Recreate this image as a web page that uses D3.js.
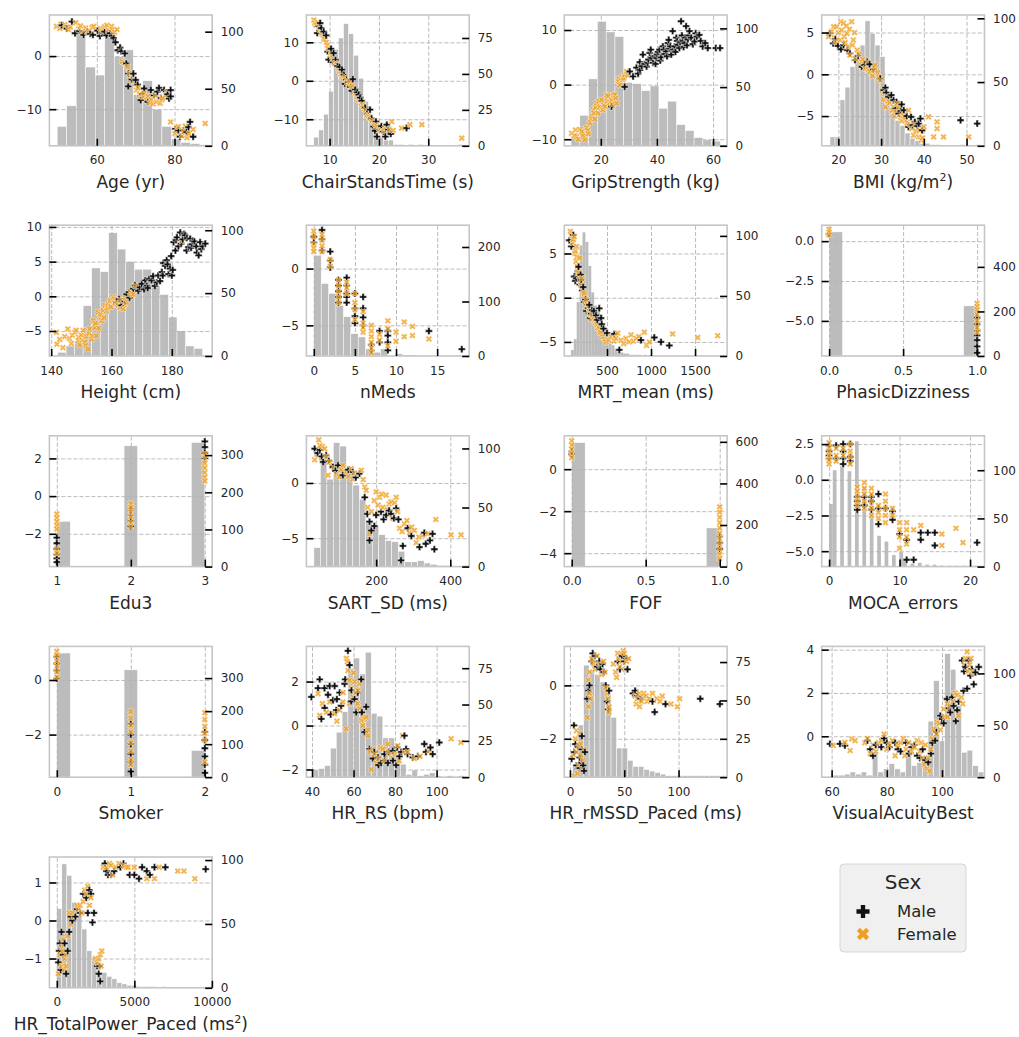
<!DOCTYPE html>
<html>
<head>
<meta charset="utf-8">
<script src="https://cdn.jsdelivr.net/npm/d3@7"></script>
<style>
  body { margin: 0; background: #fff; }
  svg { display: block; font-family: "DejaVu Sans", sans-serif; }
</style>
</head>
<body>
<svg id="chart" width="1019" height="1037"></svg>
<script>
// ---------- histogram counts (bin start, bin width, counts) ----------
const ageBinStart = 49.8, ageBinWidth = 2.45;
const ageCounts = [17,35,98,69,62,101,78,84,45,57,32,17,6,3,2,1];
const chairBinStart = 6.8, chairBinWidth = 1.007;
const chairCounts = [6,11,22,38,67,75,85,78,63,47,31,22,13,6,4,4,1,1,0,1,0,1,0,0,0,0,0,0,0,1];
const gripBinStart = 9.4, gripBinWidth = 3.13;
const gripCounts = [8,26,57,106,97,93,54,53,47,51,32,38,18,13,7,5,4];
const bmiBinStart = 18.05, bmiBinWidth = 1.17;
const bmiCounts = [7,7,36,46,62,71,79,98,88,79,70,35,28,20,16,10,6,4,2,2,1,1,0,0,0,0,1,0,0,1];
const heightBinStart = 142.1, heightBinWidth = 2.83;
const heightCounts = [3,8,12,40,70,67,98,85,75,69,69,56,49,31,20,8,6];
const nmedsBinStart = 0, nmedsBinWidth = 0.9;
const nmedsCounts = [185,133,115,93,72,41,35,13,7,13,0,4,2,2,0,1,0,0,0,1];
const mrtBinStart = 90, mrtBinWidth = 33;
const mrtCounts = [5,14,45,92,103,95,75,53,42,37,34,23,18,12,9,6,4,3,2,2,1,1,1,1,0,1,0,1];
const phasicBinStart = 0, phasicBinWidth = 1 / 11;
const phasicCounts = [557,0,0,0,0,0,0,0,0,0,225];
const edu3BinStart = 1, edu3BinWidth = 2 / 11;
const edu3Counts = [122,0,0,0,0,325,0,0,0,0,334];
const sartBinStart = 32, sartBinWidth = 17.5;
const sartCounts = [16,91,74,105,102,80,69,57,38,35,27,22,21,13,4,4,5,3,2,1,1,0,0,1];
const fofBinStart = 0, fofBinWidth = 1 / 11;
const fofCounts = [596,0,0,0,0,0,0,0,0,0,186];
const mocaBinStart = 0, mocaBinWidth = 0.525;
const mocaCounts = [65,100,0,104,0,99,0,130,0,83,0,72,0,32,0,26,0,12,0,15,6,0,3,0,4,0,2,0,2,0,1,0,1,0,1,0,1,0,0,1];
const smokerBinStart = 0, smokerBinWidth = 2 / 11;
const smokerCounts = [376,0,0,0,0,325,0,0,0,0,81];
const hrrsBinStart = 40.5, hrrsBinWidth = 2.8;
const hrrsCounts = [5,6,8,20,31,45,75,82,71,86,44,42,27,27,14,9,2,5,1,2,3,1,0,1,0,1];
const rmssdBinStart = 2.5, rmssdBinWidth = 5.05;
const rmssdCounts = [8,34,73,70,67,62,54,39,19,19,11,7,7,5,4,3,2,1,1,1,1,1,1,1,1,1,1,1];
const vaBinStart = 60.6, vaBinWidth = 2.02;
const vaCounts = [2,2,3,5,3,5,2,24,5,8,13,8,5,24,11,14,19,54,93,35,119,104,69,24,26,11,5];
const tpBinStart = 0, tpBinWidth = 323;
const tpCounts = [62,97,88,67,57,46,29,24,12,12,9,7,4,3,2,2,1,1,1,1,0,1,0,0,0,0,0,0,0,0,1];

// ---------- partial-dependence points [feature value, effect] ----------
const ageMale = [[51,5.8],[52.3,5.2],[53.6,6.5],[54.4,4.3],[55.5,4.7],[56.6,4.0],[57.5,4.6],[58.3,4.2],[59,4.0],[60.2,4.8],[60.8,3.8],[61.3,4.3],[62,4.6],[62.5,3.9],[63.4,4.3],[63.9,3.8],[64.3,3.4],[64.8,2.6],[65.4,1.1],[66,1.6],[66.3,0.9],[67.2,0.5],[67.6,-1.4],[68.1,-3.3],[69,-4.4],[69.4,-3.3],[68.1,-5.7],[70,-4.5],[70.5,-5.4],[71.3,-8.3],[71.8,-7.2],[72.2,-6.1],[73.1,-8.6],[73.9,-6.4],[74.7,-7.4],[75.6,-6.7],[76,-6.0],[76.5,-7.9],[77.3,-6.4],[78.2,-7.2],[78.6,-8.0],[79,-6.4],[79,-7.6],[80.2,-13.7],[81,-14.0],[81.4,-15.2],[82.2,-14.0],[83.1,-14.3],[83.6,-13.4],[84,-12.4],[84.8,-15.2]];
const ageFemale = [[49.6,5.6],[50.5,5.2],[50.8,6.0],[51.8,5.9],[52.2,5.4],[52.7,5.0],[53.2,5.5],[54.6,6.3],[55.3,5.1],[55.8,5.7],[56,4.6],[57.1,5.3],[57.6,4.4],[58,4.8],[58.8,5.4],[59.2,5.6],[59.7,4.9],[60.9,5.2],[61.5,4.6],[62,5.5],[62.6,5.8],[63,4.9],[63.8,5.6],[64,5.0],[64.6,4.5],[65.2,5.0],[66.5,-1.0],[67.2,-1.3],[67.9,-2.0],[68.3,-3.3],[68.6,-4.5],[69.3,-3.8],[69.8,-5.2],[70.2,-6.4],[70.6,-6.0],[71,-7.2],[71.9,-7.7],[72.2,-7.0],[72.8,-8.3],[73.2,-7.6],[73.6,-8.8],[74,-8.2],[74.5,-9.0],[75,-7.4],[75.4,-8.6],[76.3,-8.9],[76.8,-8.2],[77,-7.9],[77.7,-7.4],[78,-6.8],[79,-12.4],[80.1,-14.6],[80.6,-13.6],[81,-13.3],[81.9,-15.0],[82.4,-14.2],[82.8,-13.2],[83.2,-15.4],[83.7,-14.6],[84.8,-13.8],[87.9,-12.7]];

const chairMale = [[7.5,12.4],[7.8,14.2],[8.1,15.0],[8.3,13.7],[8.8,12.8],[9.3,11.8],[9.6,7.6],[9.8,5.5],[10.3,8.3],[10.7,4.8],[10.8,7.2],[11.2,5.4],[11.6,3.8],[12.0,3.6],[12.5,2.9],[12.9,1.6],[13.1,-0.8],[13.4,0.3],[13.8,-0.4],[14.2,-1.6],[14.5,-2.6],[14.7,0.4],[15.2,-2.3],[15.6,-3.0],[15.9,-3.6],[16.2,-4.4],[16.5,-5.2],[17.2,-7.0],[17.6,-8.5],[18.2,-7.5],[18.5,-9.8],[18.9,-11.9],[19.2,-13.0],[19.4,-10.6],[19.6,-14.5],[20.2,-12.7],[20.5,-11.8],[20.9,-13.2],[21.3,-14.5],[21.6,-11.4],[21.9,-12.7],[22.4,-13.8],[25.6,-12.3]];
const chairFemale = [[6.8,15.8],[7.0,15.0],[7.2,14.5],[7.6,15.2],[7.9,14.0],[8.0,13.2],[8.4,12.4],[8.6,12.0],[8.8,11.0],[9.0,10.8],[9.3,10.0],[9.5,9.2],[9.7,8.4],[10.2,7.2],[10.4,6.6],[10.6,6.0],[11.0,5.0],[11.2,4.6],[11.5,4.2],[11.9,3.0],[12.0,2.5],[12.3,1.8],[12.6,1.2],[12.8,0.7],[13.2,1.0],[13.4,0.2],[13.6,-0.5],[13.9,-1.0],[14.2,-0.2],[14.4,-1.8],[14.6,-1.3],[15.0,-2.7],[15.2,-3.3],[15.5,-4.1],[15.9,-5.0],[16.1,-4.6],[16.4,-5.8],[16.7,-6.2],[16.9,-6.7],[17.1,-7.2],[17.3,-7.6],[17.6,-8.8],[17.9,-9.2],[18.1,-9.5],[18.4,-10.0],[18.6,-10.3],[19.1,-11.0],[19.4,-11.5],[19.6,-11.9],[20.2,-12.5],[20.5,-13.0],[20.9,-13.2],[21.2,-12.3],[21.5,-12.0],[22.1,-12.6],[22.6,-10.6],[22.9,-12.9],[24.6,-12.3],[26.3,-11.4],[28.7,-11.4],[36.8,-14.9]];

const gripMale = [[23.8,-4.0],[28.5,-0.4],[30.3,2.4],[31.5,1.5],[32.7,3.1],[33.3,2.0],[33.9,4.1],[34.0,2.7],[34.6,3.4],[35.0,5.5],[35.6,3.8],[36.3,3.3],[36.7,4.0],[37.0,4.6],[37.4,5.8],[37.8,6.4],[38.0,4.9],[38.6,4.0],[39.2,5.2],[39.5,3.8],[39.8,4.9],[40.1,5.5],[40.4,6.0],[40.9,6.4],[41.2,4.4],[41.5,5.0],[42.1,7.0],[42.4,6.4],[42.7,5.6],[43.3,6.1],[43.6,5.2],[43.9,7.6],[44.2,8.2],[44.5,6.6],[44.8,7.0],[45.1,5.5],[45.6,9.8],[45.9,6.4],[46.3,7.0],[46.6,6.0],[46.9,8.6],[47.2,8.0],[47.5,7.3],[48.0,6.7],[48.3,7.8],[48.6,11.6],[48.9,9.0],[49.2,8.0],[49.5,6.9],[49.8,7.6],[50.1,8.6],[50.4,10.7],[50.7,7.2],[51.0,8.3],[51.3,9.0],[51.6,9.8],[52.2,8.6],[52.8,7.4],[53.4,7.9],[53.8,9.4],[54.2,8.8],[55.1,9.1],[55.6,8.0],[56.3,7.0],[57.2,7.6],[58.1,6.7],[61.0,6.7],[62.5,6.7]];
const gripFemale = [[9.6,-8.9],[10.6,-9.3],[11.0,-8.3],[11.4,-9.5],[12.0,-10.0],[12.5,-8.2],[13.2,-8.6],[13.7,-9.4],[14.3,-10.1],[14.9,-7.9],[15.3,-8.4],[15.6,-9.0],[16.1,-7.0],[16.4,-6.3],[16.8,-5.8],[17.3,-4.6],[17.6,-5.2],[17.9,-6.3],[18.2,-4.2],[18.5,-3.4],[19.0,-5.2],[19.3,-3.0],[19.7,-4.1],[20.3,-2.8],[20.7,-4.6],[21.0,-3.7],[21.5,-4.0],[22.1,-1.9],[22.3,-3.0],[22.6,-2.1],[23.2,-3.3],[23.8,-2.8],[24.1,-3.6],[24.4,-2.0],[25.0,-1.8],[25.3,-2.5],[25.6,-3.4],[26.2,0.6],[26.5,1.0],[26.8,-0.1],[27.4,1.3],[27.9,0.9],[28.2,1.2],[28.5,1.8],[29.1,2.4],[29.7,1.7]];

const bmiMale = [[18.0,4.9],[18.8,3.7],[19.3,4.2],[19.9,3.4],[20.6,3.0],[21.2,3.5],[22.1,2.9],[22.7,2.5],[23.9,1.7],[24.6,2.2],[25.5,0.9],[26.1,1.1],[26.7,1.5],[27.3,1.2],[28.2,0.6],[29.8,-0.5],[30.6,-1.9],[31.0,-1.6],[31.2,-2.2],[31.7,-2.7],[32.4,-2.5],[32.9,-3.1],[33.4,-4.1],[33.6,-3.3],[34.1,-4.7],[34.6,-4.4],[34.8,-3.6],[35.3,-4.3],[36.0,-5.0],[36.4,-6.3],[37.0,-5.1],[37.4,-6.1],[37.9,-5.7],[38.5,-6.2],[38.8,-5.9],[39.2,-5.3],[39.6,-6.7],[48.6,-5.5],[52.5,-5.9]];
const bmiFemale = [[17.7,4.5],[18.4,5.1],[18.9,5.7],[19.0,4.4],[19.3,3.9],[19.6,5.7],[20.0,5.0],[20.4,4.1],[20.6,6.3],[20.8,5.3],[21.2,6.1],[21.4,4.5],[21.6,3.8],[21.9,5.8],[22.0,4.9],[22.3,3.3],[22.6,5.4],[22.7,2.3],[23.1,6.3],[23.3,3.5],[23.5,4.1],[23.8,5.0],[23.9,1.9],[24.4,2.9],[24.8,2.4],[25.1,1.1],[25.4,1.5],[25.7,1.8],[26.0,1.2],[26.3,0.7],[26.9,1.4],[27.0,0.6],[27.4,0.3],[28.0,-0.2],[28.3,0.5],[28.6,1.1],[29.2,0.2],[29.5,-0.3],[29.8,-0.7],[30.2,-1.9],[30.6,-3.0],[30.9,-2.3],[31.0,-3.9],[31.4,-2.7],[31.7,-3.2],[32.0,-3.4],[32.5,-4.3],[32.8,-3.9],[33.1,-5.0],[33.4,-4.5],[33.7,-3.5],[34.1,-4.0],[34.5,-5.1],[34.8,-5.6],[35.1,-4.6],[35.4,-5.0],[35.7,-5.5],[36.1,-5.8],[36.4,-4.3],[36.8,-6.0],[37.2,-6.5],[37.6,-7.3],[37.9,-6.0],[38.2,-6.8],[38.8,-7.5],[39.0,-6.7],[39.4,-7.9],[39.7,-7.6],[40.0,-6.3],[41.1,-5.1],[42.3,-7.5],[43.1,-5.7],[43.1,-6.5],[44.6,-7.5],[50.5,-7.5]];

const heightMale = [[161.7,-0.9],[162.5,-0.4],[163.3,-1.3],[164.4,-0.7],[165,0.3],[165.8,0.6],[166,-0.2],[167.2,1.1],[167.8,1.6],[168.9,0.8],[169.4,1.3],[170,1.8],[170.8,1.0],[171.2,2.3],[171.7,1.5],[172,1.2],[172.5,2.5],[173.3,2.3],[173.8,2.9],[174.4,1.5],[175,2.0],[175.5,3.0],[176.1,2.2],[176.7,3.5],[177,3.0],[177.2,4.8],[177.8,4.4],[178.3,5.2],[178.6,4.6],[178.9,3.2],[179.4,4.0],[179.8,5.8],[180,3.0],[180.3,3.8],[180.6,7.8],[181.2,6.6],[181.4,8.1],[181.7,8.5],[182.2,7.2],[182.8,9.2],[183.1,7.6],[183.6,8.2],[184.1,9.0],[184.4,8.8],[184.9,6.6],[185,8.4],[185.5,7.1],[186.1,8.3],[186.4,7.0],[186.7,7.5],[187,8.0],[187.5,7.9],[188.1,7.2],[188.3,6.3],[188.9,5.9],[189.4,7.8],[189.8,6.8],[190.2,7.2],[191.1,7.6]];
const heightFemale = [[141.7,-5.2],[141.9,-6.9],[142.8,-6.2],[143.9,-7.4],[144.5,-5.8],[145.5,-4.7],[146.1,-6.1],[146.7,-6.8],[147.0,-5.6],[147.8,-5.2],[148.3,-4.9],[148.9,-6.4],[149.1,-5.9],[149.5,-7.0],[150,-5.6],[150.3,-6.3],[150.6,-4.9],[151.1,-6.6],[151.4,-7.1],[151.7,-5.8],[152.2,-7.6],[152.5,-5.3],[152.8,-4.7],[153.3,-6.2],[153.6,-5.7],[153.9,-3.5],[154.4,-4.5],[154.7,-3.9],[155,-5.7],[155.5,-2.3],[155.8,-4.6],[156.1,-3.0],[156.4,-2.6],[156.7,-3.5],[157.2,-2.0],[157.5,-3.1],[157.8,-1.3],[158.3,-2.1],[158.6,-1.7],[158.9,-1.1],[159.5,-0.6],[159.8,-1.5],[160.5,-0.1],[160.9,-0.4],[161.2,-1.0],[161.8,-0.7],[162.2,-1.3],[162.8,-1.6],[163.0,-0.6],[163.9,-1.8],[164.2,-1.2],[164.6,-0.3],[165,-0.9],[165.5,-0.4],[166.3,0.6],[166.8,0.2],[167.2,0.3],[167.8,1.5],[183.3,8.0]];

const nmedsMale = [[0,2.8],[0,2.3],[1,3.4],[1,2.6],[1,1.6],[2,1.5],[2,0.7],[2,0.1],[3,-1.0],[3,-1.5],[3,-2.0],[3,-2.5],[3,-3.0],[4,-0.8],[4,-1.5],[4,-2.2],[4,-2.5],[4,-3.0],[5,-2.2],[5,-3.5],[5,-4.2],[5,-4.8],[6,-2.5],[6,-3.5],[6,-4.3],[6,-5.0],[7,-6.7],[7,-7.2],[8,-5.5],[8,-6.5],[9,-5.5],[9,-5.9],[9,-6.5],[9,-7.2],[14,-5.5],[18,-7.1]];
const nmedsFemale = [[0,3.3],[0,2.8],[0,2.2],[0,1.8],[0,1.5],[1,3.0],[1,2.5],[1,2.0],[1,1.5],[2,0.8],[2,0.2],[3,-1.0],[3,-1.5],[3,-2.0],[3,-2.5],[3,-3.0],[4,-1.2],[4,-1.7],[4,-2.2],[5,-2.2],[5,-3.0],[5,-3.6],[5,-4.5],[6,-3.8],[6,-4.8],[6,-5.2],[6,-5.6],[7,-5.0],[7,-5.5],[7,-6.0],[7,-6.5],[7,-7.0],[7,-7.4],[8,-5.8],[8,-6.3],[9,-4.6],[9,-5.3],[9,-6.8],[10,-5.6],[10,-6.4],[11,-4.7],[11,-6.0],[12,-5.1],[12,-5.9],[14,-6.2]];

const mrtMale = [[72,6.5],[95,5.8],[117,7.1],[128,2.4],[140,1.9],[150,2.2],[160,2.7],[170,3.0],[177,3.5],[190,1.5],[200,2.6],[205,2.0],[220,0.8],[230,1.2],[242,-0.5],[255,-0.2],[265,-1.5],[285,-1.2],[299,-0.8],[310,-2.3],[320,-1.8],[330,-1.4],[350,-1.5],[375,-2.0],[390,-2.5],[412,-1.2],[432,-2.3],[440,-3.0],[460,-3.5],[500,-4.0],[583,-4.1],[640,-5.9],[886,-4.8],[1037,-4.5],[1113,-5.0],[1208,-5.4]];
const mrtFemale = [[83,7.5],[100,7.0],[109,6.2],[118,6.6],[128,6.9],[135,5.0],[138,5.3],[148,4.1],[155,5.8],[158,4.6],[165,3.5],[170,3.0],[177,2.8],[185,2.4],[190,4.5],[200,1.8],[205,1.4],[210,1.0],[215,2.2],[228,0.9],[235,0.2],[242,0.5],[250,-0.4],[260,-0.2],[270,-1.0],[280,-0.8],[290,-1.5],[298,-1.2],[310,-1.9],[318,-1.6],[330,-2.4],[336,-2.0],[356,-2.5],[370,-2.8],[384,-3.0],[395,-3.4],[412,-3.5],[420,-4.0],[430,-3.9],[450,-4.4],[470,-4.7],[489,-5.0],[520,-4.8],[545,-4.4],[580,-4.9],[600,-4.6],[621,-4.0],[659,-4.8],[690,-5.2],[716,-4.6],[750,-5.0],[773,-4.2],[800,-4.9],[830,-4.6],[860,-4.4],[924,-3.9],[950,-5.4],[981,-5.0],[1245,-4.1],[1530,-4.5],[1757,-4.3]];

const phasicMale = [[0,0.45],[1,-4.8],[1,-5.2],[1,-5.6],[1,-5.9],[1,-6.2],[1,-6.6],[1,-7.0]];
const phasicFemale = [[0,0.75],[0,0.55],[0,0.4],[1,-3.9],[1,-4.1],[1,-4.3],[1,-4.6],[1,-5.0],[1,-5.4],[1,-5.7]];

const edu3Male = [[1,-2.2],[1,-2.5],[1,-2.8],[1,-3.1],[1,-3.3],[1,-3.5],[2,-0.7],[2,-1.0],[2,-1.3],[2,-1.6],[3,2.9],[3,2.6],[3,2.3],[3,2.0]];
const edu3Female = [[1,-0.95],[1,-1.15],[1,-1.35],[1,-1.55],[1,-1.75],[1,-2.8],[1,-3.05],[2,-0.4],[2,-0.6],[2,-0.85],[2,-1.1],[2,-1.4],[2,-1.6],[3,2.25],[3,2.0],[3,1.75],[3,1.5],[3,1.25],[3,1.0],[3,0.8]];

const sartMale = [[34,3.1],[42,2.7],[48,3.0],[53,2.4],[57,1.9],[65,2.5],[72,2.0],[83,1.45],[90,1.1],[97,1.6],[110,0.7],[125,1.2],[137,1.0],[145,0.5],[155,0.85],[169,-1.3],[176,-2.8],[182,-3.5],[187,-4.3],[182,-5.2],[195,-3.9],[200,-2.9],[213,-2.6],[220,-3.3],[227,-2.9],[235,-2.5],[240,-2.8],[248,-3.2],[254,-2.3],[260,-3.3],[267,-7.0],[272,-5.7],[285,-4.1],[295,-4.8],[317,-5.8],[330,-4.5],[334,-5.5],[345,-5.2],[352,-4.6],[357,-6.0]];
const sartFemale = [[34,2.1],[40,2.6],[45,3.9],[48,3.4],[52,2.3],[55,3.3],[61,3.1],[66,2.4],[70,0.7],[74,1.9],[80,1.5],[88,1.3],[93,0.8],[101,0.55],[105,1.2],[110,1.6],[119,1.0],[125,0.6],[133,1.3],[137,0.35],[142,0.9],[151,0.85],[160,1.15],[165,0.3],[169,-0.36],[173,-0.66],[177,-2.2],[182,-4.6],[187,-2.6],[195,-1.6],[200,-0.8],[205,-2.0],[209,-1.3],[215,-1.0],[218,-2.2],[227,-1.1],[230,-2.4],[235,-1.9],[240,-1.7],[245,-3.2],[250,-1.8],[254,-1.3],[258,-2.6],[263,-4.1],[270,-4.4],[276,-3.7],[283,-3.4],[290,-4.5],[296,-4.0],[303,-4.3],[308,-5.4],[315,-4.9],[325,-4.75],[340,-4.6],[361,-3.3],[402,-4.7],[429,-4.7]];

const fofMale = [[0,0.85],[0,0.7],[1,-3.2],[1,-3.5],[1,-3.8]];
const fofFemale = [[0,1.35],[0,1.15],[0,0.95],[0,0.75],[0,0.55],[1,-1.8],[1,-2.05],[1,-2.3],[1,-2.55],[1,-2.8],[1,-3.05],[1,-3.3],[1,-3.55],[1,-3.8],[1,-4.05],[1,-4.25]];

const mocaMale = [[0,2.4],[0,2.0],[0,1.7],[0,1.5],[1,2.4],[1,1.5],[2,2.5],[2,2.0],[2,1.5],[2,1.1],[3,2.5],[3,1.6],[3,1.3],[4,-1.2],[4,-1.5],[4,-1.8],[4,-2.1],[5,-1.2],[5,-1.8],[6,-1.2],[6,-1.5],[6,-2.1],[7,-1.0],[7,-2.0],[7,-3.1],[8,-2.0],[9,-2.2],[9,-2.8],[10,-3.8],[11,-4.2],[11,-5.6],[12,-5.6],[13,-3.7],[13,-4.2],[14,-3.7],[15,-3.7],[15,-4.6],[21,-4.4]];
const mocaFemale = [[0,2.6],[0,2.3],[0,2.0],[0,1.7],[0,1.4],[0,1.1],[1,2.2],[1,1.7],[1,1.3],[2,2.2],[2,1.7],[3,2.5],[3,2.0],[3,1.6],[3,1.1],[4,-0.5],[4,-0.8],[4,-1.2],[4,-1.5],[4,-1.8],[5,-0.2],[5,-0.6],[5,-1.0],[5,-1.5],[5,-2.0],[6,-0.6],[6,-1.0],[6,-1.5],[6,-2.0],[6,-2.5],[7,-1.8],[7,-2.3],[7,-2.7],[8,-1.0],[8,-1.5],[8,-2.0],[8,-2.5],[8,-3.0],[9,-2.0],[9,-2.5],[10,-3.0],[10,-3.5],[10,-4.0],[10,-4.8],[11,-3.0],[11,-3.5],[11,-4.0],[11,-4.5],[12,-3.5],[13,-3.2],[16,-3.8],[16,-4.6],[18,-3.4],[19,-4.4]];

const smokerMale = [[0,0.85],[0,0.6],[0,0.35],[0,0.05],[1,-1.6],[1,-2.0],[1,-2.35],[1,-2.7],[1,-3.0],[1,-3.35],[2,-1.9],[2,-2.2],[2,-2.5],[2,-2.8],[2,-3.1],[2,-3.4]];
const smokerFemale = [[0,1.05],[0,0.9],[0,0.7],[0,0.5],[0,0.3],[0,0.1],[1,-1.15],[1,-1.4],[1,-1.65],[1,-1.9],[1,-2.3],[1,-2.6],[1,-2.9],[1,-3.1],[2,-1.2],[2,-1.45],[2,-1.7],[2,-1.95],[2,-2.2],[2,-3.0]];

const hrrsMale = [[39.7,1.3],[42.9,1.7],[43.7,2.1],[44.5,0.3],[46,1.7],[46.1,0.8],[47.7,1.4],[48.5,1.8],[49,0.5],[50.1,1.15],[50.9,1.8],[51.7,0.7],[52,1.2],[53.3,1.5],[54,0.9],[55.7,1.9],[56,2.1],[57.3,3.4],[58.1,2.75],[58.9,1.1],[59,1.6],[60.5,1.2],[61.3,0.6],[62,1.5],[63.7,2.1],[64,0.6],[66.1,0.85],[65.3,-0.3],[67.7,-1.07],[69.3,-1.5],[70,-1.2],[71.7,-1.45],[72,-1.8],[73.3,-1.7],[74.9,-1.3],[75,-1.6],[76.5,-1.7],[77,-1.2],[78.9,-1.15],[79,-1.6],[80.5,-1.8],[81,-1.0],[82.1,-1.4],[83,-1.2],[84.5,-0.46],[85.3,-1.07],[86,-1.3],[88.5,-1.45],[91,-1.4],[94.1,-0.84],[94.9,-1.2],[97,-1.0],[98.1,-1.3],[101.3,-0.77]];
const hrrsFemale = [[42.9,1.45],[43.7,0.46],[45,1.0],[47,0.6],[48.5,1.07],[50.9,0.54],[52,0.2],[53.3,0.7],[54.9,1.07],[55,1.5],[56.5,3.06],[57,2.9],[57.3,2.5],[58,1.0],[58.1,2.06],[58.9,1.7],[59.7,1.3],[56.5,-0.15],[60,2.4],[60.5,2.0],[61,1.5],[62,1.0],[62.1,1.6],[62.9,0.77],[63,1.9],[63.7,0.23],[64.5,0],[65,0.3],[66.1,0.38],[66.9,-0.46],[67,-0.2],[68,-1.2],[68.5,-2.0],[69.3,-1.07],[70,-1.3],[70.9,-1.7],[72,-1.5],[73,-1.0],[74.1,-1.07],[75,-1.6],[76.5,-0.84],[77,-1.2],[78.9,-1.5],[80,-1.3],[81.3,-0.92],[82,-1.6],[83.7,-0.46],[84.5,-1.2],[86,-1.2],[89.3,-1.5],[92,-1.4],[96.5,-1.15],[107,-0.6],[111.7,-0.77]];

const rmssdMale = [[1.6,-2.75],[3.7,-1.5],[4,-2.5],[5,-2.2],[6,-3.0],[7.6,-2.3],[9,-3.1],[9,-2.7],[10.7,-2.9],[11,-1.9],[11,-2.4],[12.2,-3.0],[13,-3.2],[13.8,-2.5],[16,-0.5],[17,-0.2],[18,0.0],[20,0.9],[21,1.2],[23,1.1],[25,0.7],[27,0.9],[28,0.6],[30,0.8],[31,0.5],[33,0.0],[34,-0.6],[35,-0.9],[36,-0.2],[44,0.9],[46,0.6],[48,1.1],[50,0.9],[52,1.0],[53,0.6],[58,-0.3],[60,-0.2],[62,-0.4],[65,-0.5],[76,-0.6],[78,-1.0],[88,-0.7],[120,-0.5],[138,-0.7]];
const rmssdFemale = [[3,-2.6],[4,-3.4],[5,-2.0],[6,-2.5],[6,-1.7],[7,-3.3],[8,-2.3],[8,-3.0],[9,-1.8],[10,-2.6],[10,-2.2],[11,-3.1],[12,-2.8],[13,-2.4],[16,-1.2],[17,-0.8],[17,0.2],[18,-0.3],[18,0.5],[19,-0.5],[20,1.0],[22,0.8],[23,0.6],[25,1.1],[27,0.8],[29,0.4],[31,0.9],[32,0.5],[33,-0.1],[34,-0.3],[35,-0.5],[36,-0.8],[36,-1.0],[40,0.8],[42,0.5],[43,0.3],[44,1.2],[45,1.0],[46,0.7],[47,1.2],[48,0.9],[49,1.3],[50,1.2],[51,0.6],[52,0.9],[54,1.0],[60,-0.4],[61,-0.7],[62,-0.5],[64,-0.3],[64,-0.8],[66,-0.6],[67,-0.4],[68,-0.3],[70,-0.4],[71,-0.6],[73,-0.5],[76,-0.3],[80,-0.5],[83,-0.6],[85,-0.4],[93,-0.7],[99,-0.8],[101,-0.5]];

const vaMale = [[59.4,-0.35],[63.0,-0.35],[64.8,-0.43],[73,-0.2],[74,-0.6],[75,-0.9],[76,-0.4],[78,-0.5],[79,-0.1],[80,-0.3],[81,-0.5],[83,-0.3],[84,-0.6],[85,-0.7],[87,-0.3],[88,-0.8],[89,-0.5],[90,-0.4],[91,-0.9],[92,-1.0],[93,-0.6],[94,-1.1],[95,-1.2],[96,-0.8],[96.5,-0.3],[97.5,-0.2],[98,0.2],[99.4,0.95],[100,0.8],[100.6,0.6],[101.8,1.72],[102.5,1.3],[103,1.1],[103.6,1.8],[104.2,1.4],[105,0.7],[105.5,1.2],[106,1.6],[107.3,3.5],[107.8,2.1],[108,3.0],[108.5,3.2],[109.1,2.2],[109.6,3.5],[110.3,2.8],[110.8,3.1],[111.5,2.4],[112.1,2.95],[113.3,3.2]];
const vaFemale = [[60.6,-0.43],[64.8,-0.28],[66.7,-0.66],[67.3,-0.12],[68.5,-0.2],[72,-0.3],[73,-0.1],[74,-0.8],[75,-0.4],[76,-0.7],[77,-0.3],[78,-0.2],[79,0.1],[80,-0.6],[81,-0.4],[82,-0.2],[83,-0.9],[84,-0.4],[85,-0.3],[86,-0.1],[86.5,-0.9],[87,-0.6],[88,-0.3],[89,-0.7],[90,-0.5],[91,-0.2],[92,-0.7],[92.5,-0.3],[93,-1.0],[93.5,-1.3],[94,-0.4],[94.5,-1.5],[95,-1.0],[95.5,-1.6],[96,-0.6],[96.4,-0.12],[97,0.34],[98,0.1],[98.2,0.65],[99,0.6],[99.4,0.3],[100.6,1.26],[101,0.9],[102,0.9],[102,1.5],[103,1.4],[104,1.6],[104.8,2.0],[105.5,1.9],[106,0.95],[107,1.8],[107.5,1.5],[108,3.3],[108.5,3.6],[109.1,3.9],[109.5,3.0],[110,3.3],[110.5,3.6],[111,3.0],[111.5,2.9]];

const tpMale = [[100,-1.1],[150,-0.8],[200,-0.6],[250,-1.3],[300,-0.3],[400,-0.9],[500,-0.6],[600,-1.4],[700,-0.8],[800,-0.3],[900,0.1],[1000,0.0],[1200,0.1],[1300,0.3],[1500,0.2],[1700,0.7],[1900,0.6],[2000,0.2],[2100,0.8],[2200,0.7],[2300,-0.05],[2400,0.2],[2600,-1.2],[2700,-1.4],[2750,-1.2],[2800,-1.6],[3100,1.5],[3200,1.3],[3300,1.2],[3500,1.2],[3700,1.3],[4100,1.4],[4300,1.5],[4700,1.2],[5000,1.2],[5300,1.1],[5500,1.4],[5800,1.3],[6000,1.2],[6300,1.4],[7000,1.4],[9600,1.35]];
const tpFemale = [[100,-1.4],[200,-0.9],[300,-1.2],[300,-0.7],[400,-0.5],[400,-0.8],[500,-1.0],[500,-1.3],[600,-1.2],[600,-0.9],[700,-0.4],[800,0.2],[900,-0.1],[1000,0.2],[1100,0.1],[1300,0.4],[1400,0.3],[1500,0.4],[1600,0.2],[1700,0.5],[1800,0.8],[1900,0.7],[2000,0.9],[2100,0.4],[2200,0.6],[2500,-1.0],[2600,-1.1],[2700,-1.0],[2800,-0.9],[2850,-1.2],[2900,-0.8],[3000,1.4],[3200,1.4],[3400,1.5],[3500,1.45],[3600,1.2],[3800,1.4],[4000,1.5],[4300,1.45],[4500,1.4],[4600,1.4],[5000,1.4],[5800,1.1],[6300,1.1],[6600,1.4],[7800,1.3],[8200,1.3],[8900,1.1]];

// ---------- tick values ----------
const ageXTicks = [60, 80], ageYTicks = [-10, 0], ageCTicks = [0, 50, 100];
const chairXTicks = [10, 20, 30], chairYTicks = [-10, 0, 10], chairCTicks = [0, 25, 50, 75];
const gripXTicks = [20, 40, 60], gripYTicks = [-10, 0, 10], gripCTicks = [0, 50, 100];
const bmiXTicks = [20, 30, 40, 50], bmiYTicks = [-5, 0, 5], bmiCTicks = [0, 50, 100];
const heightXTicks = [140, 160, 180], heightYTicks = [-5, 0, 5, 10], heightCTicks = [0, 50, 100];
const nmedsXTicks = [0, 5, 10, 15], nmedsYTicks = [-5, 0], nmedsCTicks = [0, 100, 200];
const mrtXTicks = [500, 1000, 1500], mrtYTicks = [-5, 0, 5], mrtCTicks = [0, 50, 100];
const phasicXTicks = [0, 0.5, 1], phasicYTicks = [-5, -2.5, 0], phasicCTicks = [0, 200, 400];
const edu3XTicks = [1, 2, 3], edu3YTicks = [-2, 0, 2], edu3CTicks = [0, 100, 200, 300];
const sartXTicks = [200, 400], sartYTicks = [-5, 0], sartCTicks = [0, 50, 100];
const fofXTicks = [0, 0.5, 1], fofYTicks = [-4, -2, 0], fofCTicks = [0, 200, 400, 600];
const mocaXTicks = [0, 10, 20], mocaYTicks = [-5, -2.5, 0, 2.5], mocaCTicks = [0, 50, 100];
const smokerXTicks = [0, 1, 2], smokerYTicks = [-2, 0], smokerCTicks = [0, 100, 200, 300];
const hrrsXTicks = [40, 60, 80, 100], hrrsYTicks = [-2, 0, 2], hrrsCTicks = [0, 25, 50, 75];
const rmssdXTicks = [0, 50, 100], rmssdYTicks = [-2, 0], rmssdCTicks = [0, 25, 50, 75];
const vaXTicks = [60, 80, 100], vaYTicks = [0, 2, 4], vaCTicks = [0, 50, 100];
const tpXTicks = [0, 5000, 10000], tpYTicks = [-1, 0, 1], tpCTicks = [0, 50, 100];

// ---------- panel definitions ----------
const panels = [
  { label: [["Age (yr)"]], start: ageBinStart, width: ageBinWidth, counts: ageCounts, male: ageMale, female: ageFemale,
    xd: [47.8, 89.7], yd: [-16.9, 7.74], cd: [0, 114.6], xt: ageXTicks, yt: ageYTicks, ct: ageCTicks, xf: "d", yf: "d" },
  { label: [["ChairStandsTime (s)"]], start: chairBinStart, width: chairBinWidth, counts: chairCounts, male: chairMale, female: chairFemale,
    xd: [5.3, 38.3], yd: [-16.9, 17.1], cd: [0, 91], xt: chairXTicks, yt: chairYTicks, ct: chairCTicks, xf: "d", yf: "d" },
  { label: [["GripStrength (kg)"]], start: gripBinStart, width: gripBinWidth, counts: gripCounts, male: gripMale, female: gripFemale,
    xd: [7.0, 65.0], yd: [-11.2, 12.75], cd: [0, 111.4], xt: gripXTicks, yt: gripYTicks, ct: gripCTicks, xf: "d", yf: "d" },
  { label: [["BMI (kg/m"], ["2", true], [")"]], start: bmiBinStart, width: bmiBinWidth, counts: bmiCounts, male: bmiMale, female: bmiFemale,
    xd: [16.1, 54.2], yd: [-8.56, 7.1], cd: [0, 102.6], xt: bmiXTicks, yt: bmiYTicks, ct: bmiCTicks, xf: "d", yf: "d" },
  { label: [["Height (cm)"]], start: heightBinStart, width: heightBinWidth, counts: heightCounts, male: heightMale, female: heightFemale,
    xd: [139.4, 193.4], yd: [-8.6, 10.25], cd: [0, 104], xt: heightXTicks, yt: heightYTicks, ct: heightCTicks, xf: "d", yf: "d" },
  { label: [["nMeds"]], start: nmedsBinStart, width: nmedsBinWidth, counts: nmedsCounts, male: nmedsMale, female: nmedsFemale,
    xd: [-0.9, 18.9], yd: [-7.7, 3.82], cd: [0, 240], xt: nmedsXTicks, yt: nmedsYTicks, ct: nmedsCTicks, xf: "d", yf: "d" },
  { label: [["MRT_mean (ms)"]], start: mrtBinStart, width: mrtBinWidth, counts: mrtCounts, male: mrtMale, female: mrtFemale,
    xd: [15, 1864], yd: [-6.59, 8.2], cd: [0, 108.9], xt: mrtXTicks, yt: mrtYTicks, ct: mrtCTicks, xf: "d", yf: "d" },
  { label: [["PhasicDizziness"]], start: phasicBinStart, width: phasicBinWidth, counts: phasicCounts, male: phasicMale, female: phasicFemale,
    xd: [-0.05, 1.05], yd: [-7.2, 1.0], cd: [0, 587], xt: phasicXTicks, yt: phasicYTicks, ct: phasicCTicks, xf: ".1f", yf: ".1f" },
  { label: [["Edu3"]], start: edu3BinStart, width: edu3BinWidth, counts: edu3Counts, male: edu3Male, female: edu3Female,
    xd: [0.9, 3.1], yd: [-3.74, 3.2], cd: [0, 352], xt: edu3XTicks, yt: edu3YTicks, ct: edu3CTicks, xf: "d", yf: "d" },
  { label: [["SART_SD (ms)"]], start: sartBinStart, width: sartBinWidth, counts: sartCounts, male: sartMale, female: sartFemale,
    xd: [11.7, 451], yd: [-7.57, 4.27], cd: [0, 110.7], xt: sartXTicks, yt: sartYTicks, ct: sartCTicks, xf: "d", yf: "d" },
  { label: [["FOF"]], start: fofBinStart, width: fofBinWidth, counts: fofCounts, male: fofMale, female: fofFemale,
    xd: [-0.05, 1.05], yd: [-4.64, 1.59], cd: [0, 629], xt: fofXTicks, yt: fofYTicks, ct: fofCTicks, xf: ".1f", yf: "d" },
  { label: [["MOCA_errors"]], start: mocaBinStart, width: mocaBinWidth, counts: mocaCounts, male: mocaMale, female: mocaFemale,
    xd: [-1.05, 22.05], yd: [-6.08, 3.08], cd: [0, 135.7], xt: mocaXTicks, yt: mocaYTicks, ct: mocaCTicks, xf: "d", yf: ".1f" },
  { label: [["Smoker"]], start: smokerBinStart, width: smokerBinWidth, counts: smokerCounts, male: smokerMale, female: smokerFemale,
    xd: [-0.1, 2.1], yd: [-3.56, 1.23], cd: [0, 396], xt: smokerXTicks, yt: smokerYTicks, ct: smokerCTicks, xf: "d", yf: "d" },
  { label: [["HR_RS (bpm)"]], start: hrrsBinStart, width: hrrsBinWidth, counts: hrrsCounts, male: hrrsMale, female: hrrsFemale,
    xd: [37.3, 115.7], yd: [-2.35, 3.6], cd: [0, 90], xt: hrrsXTicks, yt: hrrsYTicks, ct: hrrsCTicks, xf: "d", yf: "d" },
  { label: [["HR_rMSSD_Paced (ms)"]], start: rmssdBinStart, width: rmssdBinWidth, counts: rmssdCounts, male: rmssdMale, female: rmssdFemale,
    xd: [-5.2, 144.7], yd: [-3.44, 1.46], cd: [0, 85.2], xt: rmssdXTicks, yt: rmssdYTicks, ct: rmssdCTicks, xf: "d", yf: "d" },
  { label: [["VisualAcuityBest"]], start: vaBinStart, width: vaBinWidth, counts: vaCounts, male: vaMale, female: vaFemale,
    xd: [56.4, 115.4], yd: [-1.89, 4.15], cd: [0, 126], xt: vaXTicks, yt: vaYTicks, ct: vaCTicks, xf: "d", yf: "d" },
  { label: [["HR_TotalPower_Paced (ms"], ["2", true], [")"]], start: tpBinStart, width: tpBinWidth, counts: tpCounts, male: tpMale, female: tpFemale,
    xd: [-477, 10020], yd: [-1.77, 1.67], cd: [0, 102.4], xt: tpXTicks, yt: tpYTicks, ct: tpCTicks, xf: "d", yf: "d" }
];

// ---------- layout & style ----------
const colX = [49.4, 306.4, 564.3, 821.7];
const rowY = [15, 225.2, 435.8, 646.4, 857];
const PW = 162.8, PH = 130.8;
const TICK = 7;
const BAR = "#bcbcbc", GRID = "#b3b3b3", FRAME = "#c6c6c6", TEXT = "#262626";
const MALE = "#111111", FEMALE = "#f0a020";

const svg = d3.select("#chart");
const crossPath = d3.symbol(d3.symbolCross, 27)();

function styleTicks(sel) {
  sel.select(".domain").remove();
  sel.selectAll(".tick line").attr("stroke", "#000").attr("stroke-width", 1.6);
  sel.selectAll(".tick text").attr("fill", TEXT).attr("font-size", 12)
     .attr("font-family", "DejaVu Sans, sans-serif");
}

panels.forEach((p, i) => {
  const gx = colX[i % 4], gy = rowY[Math.floor(i / 4)];
  const g = svg.append("g").attr("transform", `translate(${gx},${gy})`);
  const x = d3.scaleLinear().domain(p.xd).range([0, PW]);
  const y = d3.scaleLinear().domain(p.yd).range([PH, 0]);
  const c = d3.scaleLinear().domain(p.cd).range([PH, 0]);

  const clipId = "clip" + i;
  g.append("clipPath").attr("id", clipId)
    .append("rect").attr("width", PW).attr("height", PH);
  const inner = g.append("g").attr("clip-path", `url(#${clipId})`);

  // histogram of the feature (right axis)
  const bins = p.counts.map((n, k) => ({ x0: p.start + k * p.width, x1: p.start + (k + 1) * p.width, n }))
                       .filter(b => b.n > 0);
  const barW = x(p.start + p.width) - x(p.start);
  inner.append("g").selectAll("rect").data(bins).join("rect")
    .attr("x", b => x(b.x0)).attr("width", b => Math.max(0, x(b.x1) - x(b.x0)))
    .attr("y", b => c(b.n)).attr("height", b => PH - c(b.n))
    .attr("fill", BAR)
    .attr("stroke", barW < 4 ? "none" : "#fff").attr("stroke-width", 0.5);

  // dashed grid on the x ticks and left-axis ticks
  const gridX = inner.append("g").attr("transform", `translate(0,${PH})`)
    .call(d3.axisBottom(x).tickValues(p.xt).tickSize(-PH).tickFormat(""));
  const gridY = inner.append("g")
    .call(d3.axisLeft(y).tickValues(p.yt).tickSize(-PW).tickFormat(""));
  [gridX, gridY].forEach(s => {
    s.select(".domain").remove();
    s.selectAll("line").attr("stroke", GRID).attr("stroke-width", 0.9).attr("stroke-dasharray", "4,2");
  });

  // effect points, male "+" and female "x"
  const pts = p.male.map(d => ({ v: d[0], e: d[1], s: "m" }))
    .concat(p.female.map(d => ({ v: d[0], e: d[1], s: "f" })))
    .sort((a, b) => a.v - b.v);
  inner.append("g").selectAll("path").data(pts).join("path")
    .attr("d", crossPath)
    .attr("transform", d => `translate(${x(d.v)},${y(d.e)})` + (d.s === "f" ? " rotate(45)" : ""))
    .attr("fill", d => d.s === "m" ? MALE : FEMALE)
    .attr("fill-opacity", d => d.s === "m" ? 1 : 0.78)
    .attr("stroke", "#fff").attr("stroke-width", 0.45);

  // frame
  g.append("rect").attr("width", PW).attr("height", PH)
    .attr("fill", "none").attr("stroke", FRAME).attr("stroke-width", 1.6);

  // axes with inward ticks
  g.append("g").attr("transform", `translate(0,${PH})`)
    .call(d3.axisBottom(x).tickValues(p.xt).tickFormat(d3.format(p.xf))
      .tickSizeInner(-TICK).tickSizeOuter(0).tickPadding(10))
    .call(styleTicks);
  g.append("g")
    .call(d3.axisLeft(y).tickValues(p.yt).tickFormat(d3.format(p.yf))
      .tickSizeInner(-TICK).tickSizeOuter(0).tickPadding(7.5))
    .call(styleTicks);
  g.append("g").attr("transform", `translate(${PW},0)`)
    .call(d3.axisRight(c).tickValues(p.ct).tickFormat(d3.format("d"))
      .tickSizeInner(-TICK).tickSizeOuter(0).tickPadding(8.5))
    .call(styleTicks);

  // axis label (with optional superscript)
  const t = g.append("text").attr("x", PW / 2).attr("y", PH + 42)
    .attr("text-anchor", "middle").attr("font-size", 17).attr("fill", TEXT);
  p.label.forEach(([str, sup], k) => {
    const ts = t.append("tspan").text(str);
    if (sup) ts.attr("font-size", 11).attr("dy", -6.5);
    else if (k > 0 && p.label[k - 1][1]) ts.attr("dy", 6.5);
  });
});

// ---------- legend ----------
const lg = svg.append("g").attr("transform", "translate(840,864)");
lg.append("rect").attr("width", 126).attr("height", 88).attr("rx", 4)
  .attr("fill", "#f0f0f0").attr("stroke", "#d6d6d6").attr("stroke-width", 1);
lg.append("text").attr("x", 63).attr("y", 25).attr("text-anchor", "middle")
  .attr("font-size", 20).attr("fill", TEXT).text("Sex");
const legendItems = [["Male", MALE, 0], ["Female", FEMALE, 45]];
const bigCross = d3.symbol(d3.symbolCross, 95)();
legendItems.forEach(([name, col, rot], k) => {
  const cy = 47.5 + k * 22.5;
  lg.append("path").attr("d", bigCross)
    .attr("transform", `translate(23,${cy}) rotate(${rot})`).attr("fill", col);
  lg.append("text").attr("x", 57).attr("y", cy + 5.5).attr("font-size", 16.5)
    .attr("fill", TEXT).text(name);
});
</script>
</body>
</html>
